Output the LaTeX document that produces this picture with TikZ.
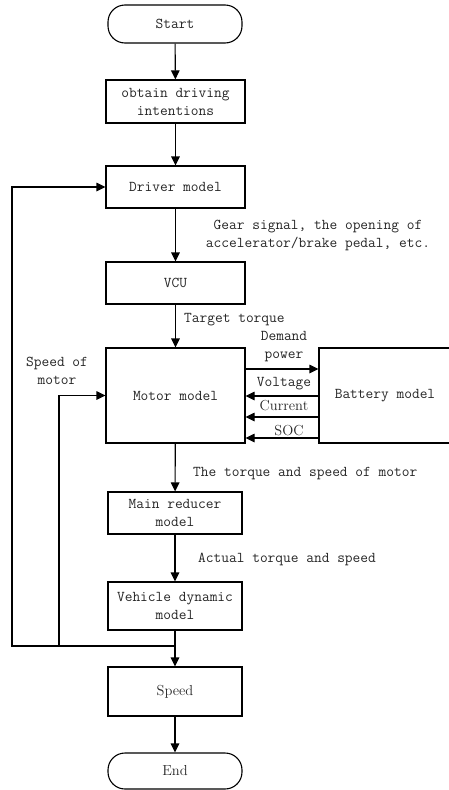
\documentclass[tikz,border=0pt]{standalone}
\usetikzlibrary{arrows.meta,calc}
\begin{document}
\begin{tikzpicture}[x=1pt,y=-1pt,
  every node/.style={font=\fontsize{15}{18}\selectfont\ttfamily, inner sep=0pt, text=black!85},
  box/.style={draw, line width=1.1pt, align=center, text=black!85},
  term/.style={box, rounded corners=17pt},
  rm/.style={font=\fontsize{14.5}{17}\selectfont\rmfamily},
  lab/.style={align=center},
  arr/.style={line width=1.1pt, -{Triangle[length=9pt,width=8.5pt]}},
  ln/.style={line width=1.1pt}]
\clip (0,0) rectangle (449,790);
\useasboundingbox (0,0) rectangle (449,790);
% boxes
\node[term, minimum width=134pt, minimum height=38pt] (start) at (175,24) {Start};
\node[box, minimum width=139pt, minimum height=43pt] (obtain) at (175.5,101.5) {obtain driving\\intentions};
\node[box, minimum width=139pt, minimum height=42pt] (driver) at (175.5,187) {Driver model};
\node[box, minimum width=139pt, minimum height=42pt] (vcu) at (175.5,283) {VCU};
\node[box, minimum width=139pt, minimum height=95pt] (motor) at (175.5,395.5) {Motor model};
\node[box, minimum width=132pt, minimum height=95pt] (battery) at (385,395.5) {Battery model};
\node[box, minimum width=134pt, minimum height=42pt] (reducer) at (175,513) {Main reducer\\model};
\node[box, minimum width=134pt, minimum height=48pt] (vehicle) at (175,606) {Vehicle dynamic\\model};
\node[box, rm, minimum width=134pt, minimum height=49pt] (speed) at (175,691.5) {Speed};
\node[term, rm, minimum width=134pt, minimum height=36pt] (end) at (175,771) {End};
% main flow
\draw[arr] (start) -- (obtain);
\draw[arr] (obtain) -- (driver);
\draw[arr] (driver) -- (vcu);
\draw[arr] (vcu) -- (motor);
\draw[arr] (motor) -- (reducer);
\draw[arr] (reducer) -- (vehicle);
\draw[arr] (vehicle) -- (speed);
\draw[arr] (speed) -- (end);
% feedback
\coordinate (jn) at (175,646);
\coordinate (lo) at (12,646);
\coordinate (li) at (59,646);
\draw[arr] (jn) -- (lo) |- (driver.west);
\draw[arr] (li) |- (motor.west);
% battery links
\coordinate (yd) at (282,369);
\coordinate (yv) at (282,396);
\coordinate (yc) at (282,417);
\coordinate (ys) at (282,438);
\draw[arr] (motor.east |- yd) -- (battery.west |- yd);
\draw[arr] (battery.west |- yv) -- (motor.east |- yv);
\draw[arr] (battery.west |- yc) -- (motor.east |- yc);
\draw[arr] (battery.west |- ys) -- (motor.east |- ys);
% labels
\node[lab] (lgear) at (318,235) {Gear signal, the opening of\\accelerator/brake pedal, etc.};
\node[anchor=west] (ltarget) at (184,320) {Target torque};
\node[lab] (ldemand) at (284,346.5) {Demand\\power};
\node (lvolt) at (284,384) {Voltage};
\node[rm] (lcurr) at (284,406) {Current};
\node[rm] (lsoc) at (289,431) {SOC};
\node[lab] (lspeedm) at (57,371) {Speed of\\motor};
\node[anchor=west] (ltorque) at (193,474) {The torque and speed of motor};
\node[anchor=west] (lactual) at (198,559) {Actual torque and speed};
\end{tikzpicture}
\end{document}
